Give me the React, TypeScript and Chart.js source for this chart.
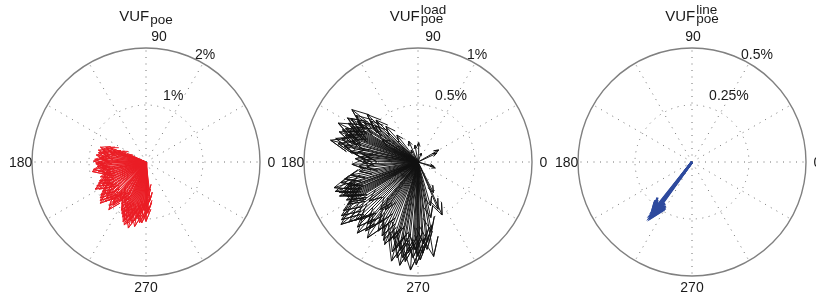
import React, { useEffect, useRef } from 'react';
import { Chart, registerables } from 'chart.js';
Chart.register(...registerables);

// ---------- DATA (angle in degrees, magnitude in %) ----------
const poeAngles = [155,157,158,159,160,161,162,163,164,165,166,168,169,171,172,174,175,177,178,179,181,182,184,185,187,188,190,191,192,193,195,196,198,199,200,202,203,204,206,207,208,210,211,212,214,215,216,218,219,220,222,223,224,226,228,229,230,231,232,233,234,236,237,238,240,241,242,243,245,246,247,248,249,250,251,252,253,254,255,256,257,258,259,260,261,262,263,264,265,266,267,268,269,270,271,272,273,274,275,276,277];
const poeMags = [0.45,0.33,0.67,0.52,0.75,0.60,0.84,0.70,0.80,0.62,0.86,0.78,0.85,0.72,0.88,0.80,0.82,0.90,0.74,0.92,0.84,0.88,0.78,0.86,0.80,0.93,0.96,0.85,0.80,0.70,0.74,0.78,0.84,0.72,0.79,0.88,0.80,0.91,0.96,0.85,1.01,0.95,0.80,0.86,0.92,0.78,0.98,1.02,0.90,1.05,1.08,0.94,1.00,0.93,0.89,0.80,1.00,0.92,1.06,0.95,0.78,0.82,0.70,0.76,0.85,0.78,0.89,0.95,1.00,0.88,1.05,0.94,1.12,1.08,1.17,1.00,1.14,1.05,1.20,0.98,1.10,0.92,1.05,1.15,0.95,1.00,0.88,1.07,0.90,1.07,0.82,0.98,0.86,1.04,0.78,0.90,0.85,0.60,0.70,0.67,0.50];

const loadAngles = [30,25,341,345,88,114,100,70,120,128,132,135,137,139,140,141.6,143,144,146,147,148,148,150,151,152,153,154,155,156,157,158,159,160,161.6,163,164,166,167,168,170,171,172,173.7,175,177,179,182,184,186,189,191,193,195,197,198,199.6,200,201,202,203.5,204,205,206,207,208,209,210,211,213,215,217,218.6,219,221,223,225,227,229.5,231,231.7,232.8,234,235.6,236.3,238,240,242,244,246,248,250,252.6,254,255,256,257.7,258.6,260,261,262.7,264,266,267,268,269,270,271.3,273,274,275.9,277,279.4,281,283,286,293,294.5,296.7];
const loadMags = [0.21,0.18,0.16,0.14,0.17,0.20,0.15,0.08,0.12,0.30,0.42,0.52,0.61,0.55,0.49,0.74,0.68,0.58,0.64,0.70,0.73,0.37,0.62,0.70,0.66,0.60,0.78,0.70,0.66,0.72,0.65,0.74,0.68,0.61,0.70,0.75,0.79,0.72,0.66,0.53,0.60,0.57,0.45,0.50,0.55,0.48,0.58,0.52,0.45,0.52,0.60,0.66,0.70,0.77,0.65,0.77,0.68,0.74,0.70,0.75,0.72,0.70,0.69,0.66,0.71,0.68,0.70,0.72,0.78,0.82,0.84,0.55,0.87,0.80,0.75,0.72,0.78,0.82,0.70,0.53,0.76,0.72,0.51,0.80,0.63,0.70,0.66,0.72,0.75,0.78,0.74,0.71,0.82,0.90,0.78,0.86,0.79,0.92,0.85,0.88,0.80,0.95,0.84,0.77,0.90,0.82,0.86,0.80,0.72,0.77,0.70,0.84,0.62,0.50,0.40,0.45,0.51,0.30];

const lineAngles = [231.5,232,232.5,233,233.5,234,234.5,233];
const lineMags = [0.27,0.29,0.285,0.295,0.28,0.30,0.29,0.30];

const angleTickLabels = ['0', '90', '180', '270'];
const poeRingLabels = ['1%', '2%'];
const loadRingLabels = ['0.5%', '1%'];
const lineRingLabels = ['0.25%', '0.5%'];
const poeRMax = 2;
const loadRMax = 1;
const lineRMax = 0.5;

// ---------- styling / layout ----------
const FONT = '"Liberation Sans", Arial, Helvetica, sans-serif';
const CW = 300;
const CH = 301;

type PanelCfg = {
  angles: number[];
  mags: number[];
  rmax: number;
  rings: string[];
  color: string;
  lw: number;
  sup: string;
  left: number;
  ninetyShift: number;
};

const panels: PanelCfg[] = [
  { angles: poeAngles, mags: poeMags, rmax: poeRMax, rings: poeRingLabels, color: '#ea1c24', lw: 1, sup: '', left: 0, ninetyShift: 13 },
  { angles: loadAngles, mags: loadMags, rmax: loadRMax, rings: loadRingLabels, color: '#111111', lw: 0.95, sup: 'load', left: 272, ninetyShift: 15 },
  { angles: lineAngles, mags: lineMags, rmax: lineRMax, rings: lineRingLabels, color: '#2e4a9e', lw: 2.4, sup: 'line', left: 546, ninetyShift: 1 },
];

function arrowPoints(angDeg: number, mag: number) {
  const t = (angDeg * Math.PI) / 180;
  const c = Math.cos(t);
  const s = Math.sin(t);
  const a = [0, 1, 0.8, 1, 0.8];
  const b = [0, 0, 0.08, 0, -0.08];
  return a.map((ai, i) => ({ x: mag * (ai * c - b[i] * s), y: mag * (ai * s + b[i] * c) }));
}

function makePlugin(p: PanelCfg) {
  return {
    id: 'compassGrid',
    beforeDatasetsDraw(chart: any) {
      const { ctx } = chart;
      const x = chart.scales.x;
      const y = chart.scales.y;
      const cx = x.getPixelForValue(0);
      const cy = y.getPixelForValue(0);
      const R = x.getPixelForValue(p.rmax) - cx;
      ctx.save();
      ctx.strokeStyle = '#707070';
      ctx.lineWidth = 1;
      ctx.setLineDash([1, 5.5]);
      for (let k = 0; k < 6; k++) {
        const t = (k * Math.PI) / 6;
        ctx.beginPath();
        ctx.moveTo(cx, cy);
        ctx.lineTo(cx + R * Math.cos(t), cy - R * Math.sin(t));
        ctx.stroke();
        ctx.beginPath();
        ctx.moveTo(cx, cy);
        ctx.lineTo(cx - R * Math.cos(t), cy + R * Math.sin(t));
        ctx.stroke();
      }
      const rInner = x.getPixelForValue(p.rmax / 2) - cx;
      ctx.beginPath();
      ctx.arc(cx, cy, rInner, 0, Math.PI * 2);
      ctx.stroke();
      ctx.setLineDash([]);
      ctx.strokeStyle = '#808080';
      ctx.lineWidth = 1.4;
      ctx.beginPath();
      ctx.arc(cx, cy, R, 0, Math.PI * 2);
      ctx.stroke();
      ctx.restore();
    },
    afterDraw(chart: any) {
      const { ctx } = chart;
      const x = chart.scales.x;
      const y = chart.scales.y;
      const cx = x.getPixelForValue(0);
      const cy = y.getPixelForValue(0);
      const R = x.getPixelForValue(p.rmax) - cx;
      ctx.save();
      ctx.fillStyle = '#1a1a1a';
      ctx.font = `14px ${FONT}`;
      ctx.textAlign = 'center';
      ctx.textBaseline = 'middle';
      const rt = 1.1 * R;
      ctx.fillText(angleTickLabels[0], cx + rt, cy + 1);
      ctx.fillText(angleTickLabels[1], cx + p.ninetyShift, cy - rt + 1);
      ctx.fillText(angleTickLabels[2], cx - rt, cy + 1);
      ctx.fillText(angleTickLabels[3], cx, cy + rt + 1);
      // ring labels
      ctx.textAlign = 'left';
      ctx.fillText(p.rings[0], cx + 0.15 * R, cy - 0.58 * R);
      ctx.fillText(p.rings[1], cx + 0.43 * R, cy - 0.94 * R);
      // title
      ctx.textBaseline = 'alphabetic';
      ctx.font = `15px ${FONT}`;
      const main = 'VUF';
      const wMain = ctx.measureText(main).width;
      ctx.font = `13.5px ${FONT}`;
      const wSub = ctx.measureText('poe').width;
      const wSup = p.sup ? ctx.measureText(p.sup).width : 0;
      const total = wMain + Math.max(wSub, wSup) + 1;
      const x0 = cx - total / 2;
      ctx.font = `15px ${FONT}`;
      ctx.fillText(main, x0, 21);
      ctx.font = `13.5px ${FONT}`;
      ctx.fillText('poe', x0 + wMain + 1, p.sup ? 22.5 : 23.5);
      if (p.sup) ctx.fillText(p.sup, x0 + wMain + 1, 13.5);
      ctx.restore();
    },
  };
}

function CompassPanel({ p }: { p: PanelCfg }) {
  const ref = useRef<HTMLCanvasElement | null>(null);
  useEffect(() => {
    if (!ref.current) return;
    const datasets = p.angles.map((ang, i) => ({
      data: arrowPoints(ang, p.mags[i]),
      showLine: true,
      borderColor: p.color,
      backgroundColor: p.color,
      borderWidth: p.lw,
      pointRadius: 0,
      pointHoverRadius: 0,
      fill: false,
      tension: 0,
      clip: false as any,
    }));
    const cxLocal = 146;
    const cyLocal = 162;
    const R = 114;
    const chart = new Chart(ref.current, {
      type: 'scatter',
      data: { datasets },
      options: {
        animation: false,
        responsive: false,
        maintainAspectRatio: false,
        events: [],
        layout: {
          padding: {
            left: cxLocal - R,
            top: cyLocal - R,
            right: CW - cxLocal - R,
            bottom: CH - cyLocal - R,
          },
        },
        plugins: { legend: { display: false }, tooltip: { enabled: false }, title: { display: false } },
        scales: {
          x: { type: 'linear', min: -p.rmax, max: p.rmax, display: false },
          y: { type: 'linear', min: -p.rmax, max: p.rmax, display: false },
        },
      },
      plugins: [makePlugin(p)],
    });
    return () => chart.destroy();
  }, [p]);
  return (
    <canvas
      ref={ref}
      width={CW}
      height={CH}
      style={{ position: 'absolute', left: p.left, top: 0, width: CW, height: CH }}
    />
  );
}

export default function App() {
  return (
    <div
      style={{
        position: 'fixed',
        left: 0,
        top: 0,
        width: 816,
        height: 301,
        overflow: 'hidden',
        background: '#ffffff',
      }}
    >
      {panels.map((p, i) => (
        <CompassPanel key={i} p={p} />
      ))}
    </div>
  );
}
